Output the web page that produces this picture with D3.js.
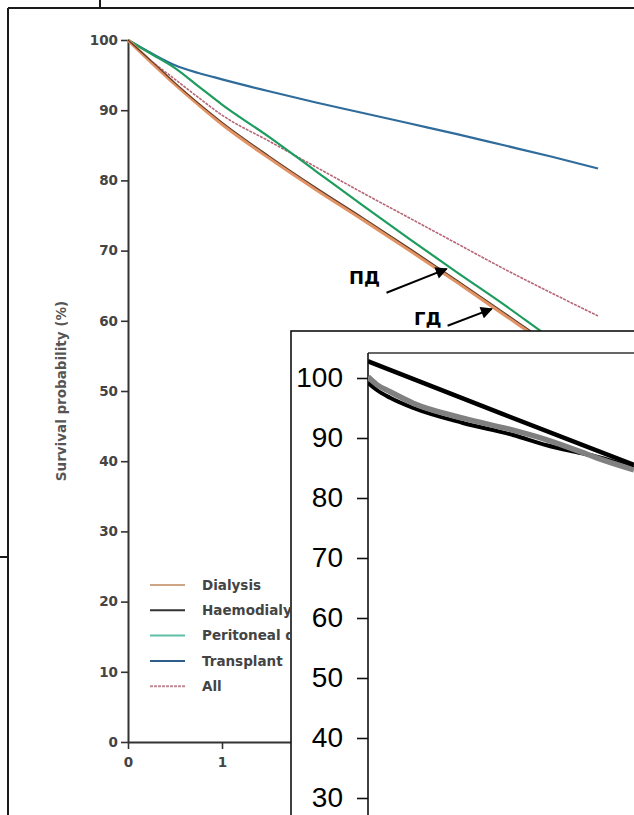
<!DOCTYPE html>
<html><head><meta charset="utf-8">
<script src="https://cdn.jsdelivr.net/npm/d3@7"></script>
<style>
html,body{margin:0;padding:0;background:#fff;}
svg{display:block;}
</style></head>
<body>
<svg id="chart" width="634" height="815"></svg>
<script>
// ---------- data (main Kaplan–Meier chart) ----------
const years = [0, 0.25, 0.5, 0.75, 1, 1.5, 2, 2.5, 3, 3.5, 4, 4.5, 5];
const dialysis      = [100, 96.8, 93.7, 90.8, 88.0, 83.2, 78.7, 74.4, 70.0, 65.5, 60.9, 56.3, 51.8];
const haemodialysis = [100, 97.0, 93.9, 91.0, 88.3, 83.5, 79.0, 74.7, 70.3, 65.8, 61.2, 56.6, 52.1];
const peritoneal    = [100, 98.0, 96.0, 93.4, 90.8, 86.2, 81.3, 76.4, 71.6, 66.9, 62.3, 57.5, 53.0];
const transplant    = [100, 98.1, 96.4, 95.3, 94.4, 92.7, 91.1, 89.6, 88.1, 86.6, 85.0, 83.4, 81.7];
const allPatients   = [100, 97.0, 94.4, 91.8, 89.3, 85.6, 81.9, 78.2, 74.6, 71.0, 67.4, 64.0, 60.7];
const seriesNames   = ["Dialysis", "Haemodialysis", "Peritoneal dialysis", "Transplant", "All"];
const yTicksMain    = [0, 10, 20, 30, 40, 50, 60, 70, 80, 90, 100];
const xTicksMain    = [0, 1, 2, 3, 4, 5];
const yLabelMain    = "Survival probability (%)";
const annotations   = ["ПД", "ГД"];

// ---------- data (inset chart) ----------
const insetT        = [0, 0.033, 0.083, 0.17, 0.357, 0.545, 0.672, 0.8, 0.86, 1.0];
const insetGrey     = [100.2, 98.9, 97.7, 95.8, 93.3, 91.3, 89.7, 87.7, 86.7, 84.7];
const insetBlack    = [99.2, 98.0, 96.7, 95.0, 92.5, 90.5, 88.8, 87.5, 86.9, 85.0];
const insetLineT    = [0, 0.5, 1.0];
const insetLine     = [102.8, 94.1, 85.5];
const yTicksInset   = [30, 40, 50, 60, 70, 80, 90, 100];

// ---------- drawing ----------
const svg = d3.select("#chart");
const W = 634, H = 815;
const defs = svg.append("defs");

// outer frame fragments
const frame = svg.append("g").attr("stroke", "#1a1a1a").attr("stroke-width", 2).attr("fill", "none");
frame.append("line").attr("x1", 8).attr("y1", 8).attr("x2", W).attr("y2", 8);
frame.append("line").attr("x1", 8).attr("y1", 8).attr("x2", 8).attr("y2", H);
frame.append("line").attr("x1", 100).attr("y1", 0).attr("x2", 100).attr("y2", 8);
frame.append("line").attr("x1", 0).attr("y1", 557).attr("x2", 8).attr("y2", 557);

// main scales
const x = d3.scaleLinear().domain([0, 5]).range([128, 598]);
const y = d3.scaleLinear().domain([0, 100]).range([742, 40]);

const mainFont = "'DejaVu Sans', Verdana, sans-serif";

const gy = svg.append("g").attr("transform", `translate(${x(0)},0)`)
  .call(d3.axisLeft(y).tickValues(yTicksMain).tickFormat(d3.format("d")).tickSize(7).tickPadding(3).tickSizeOuter(0));
gy.select(".domain").attr("stroke", "#333").attr("stroke-width", 2);
gy.selectAll(".tick line").attr("stroke", "#333").attr("stroke-width", 1.6);
gy.selectAll(".tick text").attr("font-family", mainFont).attr("font-size", 13.5).attr("font-weight", "bold").attr("fill", "#444");

const gx = svg.append("g").attr("transform", `translate(0,${y(0)})`)
  .call(d3.axisBottom(x).tickValues(xTicksMain).tickFormat(d3.format("d")).tickSize(7).tickPadding(8).tickSizeOuter(0));
gx.select(".domain").attr("stroke", "#333").attr("stroke-width", 2);
gx.selectAll(".tick line").attr("stroke", "#333").attr("stroke-width", 1.6);
gx.selectAll(".tick text").attr("font-family", mainFont).attr("font-size", 13.5).attr("font-weight", "bold").attr("fill", "#444");

svg.append("text")
  .attr("transform", `translate(66,${(y(0) + y(100)) / 2}) rotate(-90)`)
  .attr("text-anchor", "middle")
  .attr("font-family", mainFont).attr("font-size", 13.5).attr("font-weight", "bold").attr("fill", "#555")
  .text(yLabelMain);

const line = d3.line().x((d, i) => x(years[i])).y(d => y(d)).curve(d3.curveMonotoneX);

const styles = [
  {data: dialysis,      color: "#e39263", width: 3.4, dash: null, legend: "#cfa585"},
  {data: haemodialysis, color: "#5b3b28", width: 1.1, dash: null, legend: "#333"},
  {data: peritoneal,    color: "#1e9c5e", width: 2.2, dash: null, legend: "#5fbfa6"},
  {data: transplant,    color: "#2f6c9b", width: 2.2, dash: null, legend: "#2d5e8c"},
  {data: allPatients,   color: "#b66676", width: 1.6, dash: "3,1", legend: "#c08a96"}
];
const drawOrder = [4, 3, 2, 0, 1];
drawOrder.forEach(k => {
  const s = styles[k];
  svg.append("path").datum(s.data)
    .attr("fill", "none").attr("stroke", s.color).attr("stroke-width", s.width)
    .attr("stroke-dasharray", s.dash).attr("d", line);
});

// legend (partly hidden by the inset, as in the reference)
defs.append("clipPath").attr("id", "legClip")
  .append("rect").attr("x", 130).attr("y", 560).attr("width", 160).attr("height", 150);
const leg = svg.append("g").attr("clip-path", "url(#legClip)");
seriesNames.forEach((name, i) => {
  const yy = 585 + i * 25.3;
  leg.append("line").attr("x1", 150).attr("x2", 185).attr("y1", yy).attr("y2", yy)
    .attr("stroke", styles[i].legend).attr("stroke-width", 2).attr("stroke-dasharray", styles[i].dash);
  leg.append("text").attr("x", 202).attr("y", yy).attr("dy", "0.35em")
    .attr("font-family", mainFont).attr("font-size", 13.5).attr("font-weight", "bold").attr("fill", "#444")
    .text(name);
});

// annotation arrows
defs.append("marker").attr("id", "arr").attr("viewBox", "0 0 10 10").attr("refX", 9).attr("refY", 5)
  .attr("markerWidth", 7).attr("markerHeight", 6).attr("markerUnits", "strokeWidth").attr("orient", "auto")
  .append("path").attr("d", "M0,0 L10,5 L0,10 Z").attr("fill", "#000");

const annFont = "'DejaVu Sans', Arial, sans-serif";
svg.append("text").attr("x", 349).attr("y", 284).attr("font-family", annFont).attr("font-size", 18)
  .attr("font-weight", "bold").attr("fill", "#000").text(annotations[0]);
svg.append("line").attr("x1", x(2.75)).attr("y1", y(64.0)).attr("x2", x(3.39)).attr("y2", y(67.4))
  .attr("stroke", "#000").attr("stroke-width", 2).attr("marker-end", "url(#arr)");
svg.append("text").attr("x", 414).attr("y", 325).attr("font-family", annFont).attr("font-size", 18)
  .attr("font-weight", "bold").attr("fill", "#000").text(annotations[1]);
svg.append("line").attr("x1", x(3.4)).attr("y1", y(59.3)).attr("x2", x(3.87)).attr("y2", y(61.7))
  .attr("stroke", "#000").attr("stroke-width", 2).attr("marker-end", "url(#arr)");

// ---------- inset ----------
const inset = svg.append("g");
inset.append("rect").attr("x", 291).attr("y", 331).attr("width", W - 291 + 10).attr("height", H - 331 + 10)
  .attr("fill", "#fff").attr("stroke", "#111").attr("stroke-width", 1.6);

const xi = d3.scaleLinear().domain([0, 1]).range([368, 634]);
const yi = d3.scaleLinear().domain([30, 100]).range([798, 378]);

inset.append("line").attr("x1", 368).attr("y1", 353).attr("x2", W + 2).attr("y2", 353)
  .attr("stroke", "#333").attr("stroke-width", 1.5);
const gyi = inset.append("g").attr("transform", `translate(${xi(0)},0)`)
  .call(d3.axisLeft(yi).tickValues(yTicksInset).tickSize(11).tickPadding(14).tickSizeOuter(0));
gyi.select(".domain").remove();
inset.append("line").attr("x1", 368).attr("y1", 353).attr("x2", 368).attr("y2", H + 2)
  .attr("stroke", "#111").attr("stroke-width", 1.6);
gyi.selectAll(".tick line").attr("stroke", "#111").attr("stroke-width", 1.6);
gyi.selectAll(".tick text").attr("font-family", "'Liberation Sans', Arial, sans-serif")
  .attr("font-size", 28).attr("fill", "#000");

defs.append("clipPath").attr("id", "insetClip")
  .append("rect").attr("x", 368).attr("y", 354).attr("width", W - 368).attr("height", H - 354);

const lineI = (ts) => d3.line().x((d, i) => xi(ts[i])).y(d => yi(d)).curve(d3.curveMonotoneX);
const gl = inset.append("g").attr("clip-path", "url(#insetClip)");
gl.append("path").datum(insetBlack).attr("fill", "none").attr("stroke", "#000").attr("stroke-width", 4).attr("d", lineI(insetT));
gl.append("path").datum(insetGrey).attr("fill", "none").attr("stroke", "#808080").attr("stroke-width", 5.5).attr("d", lineI(insetT));
gl.append("path").datum(insetLine).attr("fill", "none").attr("stroke", "#000").attr("stroke-width", 4.5).attr("d", lineI(insetLineT));
</script>
</body></html>
